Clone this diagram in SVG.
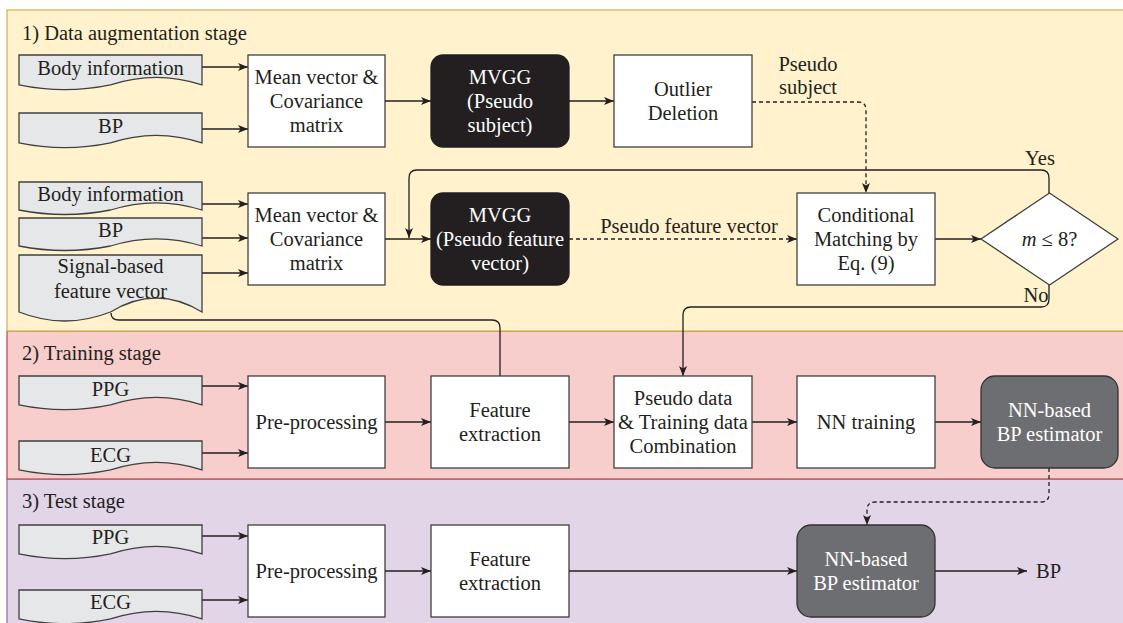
<svg xmlns="http://www.w3.org/2000/svg" width="1123" height="623" viewBox="0 0 1123 623">
<style>
text{font-family:"Liberation Serif","Times New Roman",serif;font-size:20.5px;fill:#231f20;text-anchor:middle}
.t{text-anchor:start}
.w{fill:#ffffff}
.box{fill:#ffffff;stroke:#404040;stroke-width:1.3}
.doc{fill:#e6e7e8;stroke:#404040;stroke-width:1.3}
.blk{fill:#231f20;stroke:#231f20;stroke-width:1.3}
.gry{fill:#6d6e71;stroke:#333333;stroke-width:1.3}
.ln{fill:none;stroke:#231f20;stroke-width:1.3}
.ar{marker-end:url(#arr)}
.dash{stroke-dasharray:4 3}
</style>
<defs>
<marker id="arr" viewBox="0 0 10 8" refX="10" refY="4" markerWidth="10" markerHeight="8" markerUnits="userSpaceOnUse" orient="auto">
<path d="M0,0 L10,4 L0,8 L2.5,4 z" fill="#231f20"/>
</marker>
</defs>

<g id="panels">
<rect x="7" y="479" width="1130" height="150" fill="#e1d5e7" stroke="#9673a6" stroke-width="1.3"/>
<rect x="7" y="331" width="1130" height="148" fill="#f8cecc" stroke="#b85450" stroke-width="1.3"/>
<rect x="7" y="10" width="1130" height="321" fill="#fff2cc" stroke="#d6b656" stroke-width="1.3"/>
<text class="t" x="22" y="40">1) Data augmentation stage</text>
<text class="t" x="22" y="360">2) Training stage</text>
<text class="t" x="22" y="508">3) Test stage</text>
</g>

<g id="connectors">
<path class="ln ar" d="M202,67 H248"/>
<path class="ln ar" d="M202,129 H248"/>
<path class="ln ar" d="M385,101 H431"/>
<path class="ln ar" d="M569,101 H614"/>
<path class="ln ar dash" d="M752,102 H858 Q866,102 866,110 V193"/>
<path class="ln ar" d="M202,204 H248"/>
<path class="ln ar" d="M202,238 H248"/>
<path class="ln ar" d="M202,273 H248"/>
<path class="ln ar" d="M385,239 H431"/>
<path class="ln ar dash" d="M569,239 H797"/>
<path class="ln ar" d="M935,239 H981"/>
<path class="ln ar" d="M1049,193 V178 Q1049,170 1041,170 H417 Q409,170 409,178 V238"/>
<path class="ln ar" d="M1049,285 V299 Q1049,307 1041,307 H691 Q683,307 683,315 V376"/>
<path class="ln" d="M500,376 V328 Q500,320 492,320 H119 Q111,320 111,313"/>
<path class="ln ar" d="M202,386 H248"/>
<path class="ln ar" d="M202,453 H248"/>
<path class="ln ar" d="M385,422 H431"/>
<path class="ln ar" d="M569,422 H614"/>
<path class="ln ar" d="M752,422 H797"/>
<path class="ln ar" d="M935,422 H981"/>
<path class="ln ar dash" d="M1049,468 V494 Q1049,502 1041,502 H875 Q867,502 867,510 V525"/>
<path class="ln ar" d="M202,536 H248"/>
<path class="ln ar" d="M202,600 H248"/>
<path class="ln ar" d="M385,571 H431"/>
<path class="ln ar" d="M569,571 H797"/>
<path class="ln ar" d="M935,571 H1027"/>
<text x="808" y="71">Pseudo</text>
<text x="808" y="94">subject</text>
<text x="689" y="233">Pseudo feature vector</text>
<text x="1040" y="165">Yes</text>
<text x="1036" y="302">No</text>
<text class="t" x="1036" y="578">BP</text>
</g>

<g id="doc-body1">
<path class="doc" d="M19,55 H202 V84.9 Q156.25,69.7 110.5,84.9 Q64.75,94.5 19,84.9 Z"/>
<text x="110.5" y="75">Body information</text>
</g>
<g id="doc-bp1">
<path class="doc" d="M19,113 H202 V142.9 Q156.25,127.7 110.5,142.9 Q64.75,152.5 19,142.9 Z"/>
<text x="110.5" y="133">BP</text>
</g>
<g id="mean1">
<rect class="box" x="248" y="55" width="137" height="92"/>
<text x="316.5" y="84">Mean vector &amp;</text>
<text x="316.5" y="108">Covariance</text>
<text x="316.5" y="132">matrix</text>
</g>
<g id="mvgg1">
<rect class="blk" x="431" y="55" width="138" height="92" rx="12"/>
<text class="w" x="500" y="84">MVGG</text>
<text class="w" x="500" y="108">(Pseudo</text>
<text class="w" x="500" y="132">subject)</text>
</g>
<g id="outlier">
<rect class="box" x="614" y="55" width="138" height="92"/>
<text x="683" y="96">Outlier</text>
<text x="683" y="120">Deletion</text>
</g>

<g id="doc-body2">
<path class="doc" d="M19,182 H202 V210 Q156.25,195.6 110.5,210 Q64.75,219 19,210 Z"/>
<text x="110.5" y="200.5">Body information</text>
</g>
<g id="doc-bp2">
<path class="doc" d="M19,218 H202 V246 Q156.25,231.6 110.5,246 Q64.75,255 19,246 Z"/>
<text x="110.5" y="236.5">BP</text>
</g>
<g id="doc-signal">
<path class="doc" d="M19,255 H202 V312 Q156.25,284 110.5,312 Q64.75,330 19,312 Z"/>
<text x="110.5" y="273">Signal-based</text>
<text x="110.5" y="298">feature vector</text>
</g>
<g id="mean2">
<rect class="box" x="248" y="193" width="137" height="92"/>
<text x="316.5" y="222">Mean vector &amp;</text>
<text x="316.5" y="246">Covariance</text>
<text x="316.5" y="270">matrix</text>
</g>
<g id="mvgg2">
<rect class="blk" x="431" y="193" width="138" height="92" rx="12"/>
<text class="w" x="500" y="222">MVGG</text>
<text class="w" x="500" y="246">(Pseudo feature</text>
<text class="w" x="500" y="270">vector)</text>
</g>
<g id="conditional">
<rect class="box" x="797" y="193" width="138" height="92"/>
<text x="866" y="222">Conditional</text>
<text x="866" y="246">Matching by</text>
<text x="866" y="270">Eq. (9)</text>
</g>
<g id="decision">
<path class="box" d="M1049.5,193 L1118,239 L1049.5,285 L981,239 Z"/>
<text x="1049.5" y="246"><tspan font-style="italic">m</tspan> ≤ 8?</text>
</g>

<g id="train-ppg">
<path class="doc" d="M19,376 H202 V404.9 Q156.25,389.7 110.5,404.9 Q64.75,414.5 19,404.9 Z"/>
<text x="110.5" y="396">PPG</text>
</g>
<g id="train-ecg">
<path class="doc" d="M19,441 H202 V469.9 Q156.25,454.7 110.5,469.9 Q64.75,479.5 19,469.9 Z"/>
<text x="110.5" y="462">ECG</text>
</g>
<g id="train-pre">
<rect class="box" x="248" y="376" width="137" height="92"/>
<text x="316.5" y="429">Pre-processing</text>
</g>
<g id="train-feat">
<rect class="box" x="431" y="376" width="138" height="92"/>
<text x="500" y="417">Feature</text>
<text x="500" y="441">extraction</text>
</g>
<g id="combination">
<rect class="box" x="614" y="376" width="138" height="92"/>
<text x="683" y="405">Pseudo data</text>
<text x="683" y="429">&amp; Training data</text>
<text x="683" y="453">Combination</text>
</g>
<g id="nn-training">
<rect class="box" x="797" y="376" width="138" height="92"/>
<text x="866" y="429">NN training</text>
</g>
<g id="train-estimator">
<rect class="gry" x="981" y="376" width="137" height="92" rx="14"/>
<text class="w" x="1049.5" y="417">NN-based</text>
<text class="w" x="1049.5" y="441">BP estimator</text>
</g>

<g id="test-ppg">
<path class="doc" d="M19,525 H202 V553.9 Q156.25,538.7 110.5,553.9 Q64.75,563.5 19,553.9 Z"/>
<text x="110.5" y="544">PPG</text>
</g>
<g id="test-ecg">
<path class="doc" d="M19,590 H202 V618.9 Q156.25,603.7 110.5,618.9 Q64.75,628.5 19,618.9 Z"/>
<text x="110.5" y="609">ECG</text>
</g>
<g id="test-pre">
<rect class="box" x="248" y="525" width="137" height="92"/>
<text x="316.5" y="578">Pre-processing</text>
</g>
<g id="test-feat">
<rect class="box" x="431" y="525" width="138" height="92"/>
<text x="500" y="566">Feature</text>
<text x="500" y="590">extraction</text>
</g>
<g id="test-estimator">
<rect class="gry" x="797" y="525" width="138" height="92" rx="14"/>
<text class="w" x="866" y="566">NN-based</text>
<text class="w" x="866" y="590">BP estimator</text>
</g>
</svg>
